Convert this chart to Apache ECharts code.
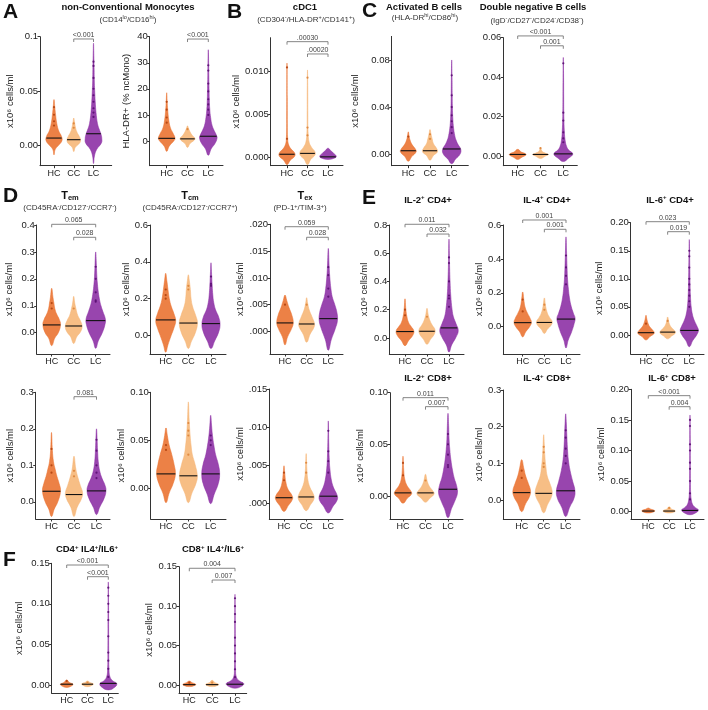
<!DOCTYPE html>
<html><head><meta charset="utf-8">
<script src="https://cdn.jsdelivr.net/npm/echarts@6/dist/echarts.min.js"></script>
<style>html,body{margin:0;padding:0;background:#fff}#c{width:708px;height:710px}</style>
</head><body><div id="c"></div>
<script>
const groups = ['HC', 'CC', 'LC'];

// ---------- A1: non-conventional monocytes ----------
const monoTicks = [0, 0.05, 0.1];
const monoTickLabels = ['0.00', '0.05', '0.1'];
const monoHC = [[-0.009,0],[-0.004,0.15],[0.0,0.6],[0.004,1.0],[0.008,0.95],[0.013,0.6],[0.02,0.35],[0.028,0.2],[0.035,0.1],[0.042,0]];
const monoCC = [[-0.006,0],[-0.002,0.2],[0.002,0.75],[0.005,0.85],[0.008,0.7],[0.012,0.4],[0.017,0.2],[0.022,0.08],[0.025,0]];
const monoLC = [[-0.017,0],[-0.01,0.12],[-0.004,0.4],[0.002,1.0],[0.006,1.05],[0.01,0.95],[0.015,0.7],[0.02,0.5],[0.03,0.32],[0.04,0.22],[0.05,0.15],[0.06,0.1],[0.07,0.08],[0.08,0.05],[0.094,0]];
const monoMedians = [0.0065, 0.005, 0.0105];
const monoDots = [[0.035,0.028,0.022,0.018],[0.02,0.016],[0.077,0.073,0.062,0.052,0.046,0.04,0.034,0.03,0.026]];
const monoPvals = [['CC','LC','<0.001']];

// ---------- A2: HLA-DR+ ----------
const hladrTicks = [0, 10, 20, 30, 40];
const hladrTickLabels = ['0', '10', '20', '30', '40'];
const hladrHC = [[-4,0],[-2,0.3],[0,0.85],[1,1.0],[3,0.75],[5,0.45],[8,0.25],[12,0.12],[15,0.06],[18.5,0]];
const hladrCC = [[-2.5,0],[-1,0.3],[0.3,0.8],[1,0.9],[2,0.6],[3.5,0.3],[5,0.1],[5.8,0]];
const hladrLC = [[-5.5,0],[-3,0.35],[-1,0.8],[1,1.05],[2,1.0],[4,0.7],[6,0.45],[9,0.28],[12,0.18],[16,0.12],[20,0.09],[25,0.06],[30,0.04],[35,0]];
const hladrMedians = [1.0, 0.8, 1.8];
const hladrDots = [[15,12,9,7],[4.5],[29,27,22,19,16,14,12,10]];
const hladrPvals = [['CC','LC','<0.001']];

// ---------- B: cDC1 ----------
const cdc1Ticks = [0, 0.005, 0.01];
const cdc1TickLabels = ['0.000', '0.005', '0.010'];
const cdc1HC = [[-0.0008,0],[-0.0003,0.4],[0.0002,0.95],[0.0006,0.9],[0.001,0.5],[0.0015,0.2],[0.0022,0.08],[0.004,0.04],[0.007,0.03],[0.011,0]];
const cdc1CC = [[-0.0008,0],[-0.0002,0.4],[0.0003,0.9],[0.0007,0.9],[0.0012,0.5],[0.0018,0.2],[0.003,0.07],[0.005,0.04],[0.008,0.03],[0.0102,0]];
const cdc1LC = [[-0.0002,0],[0.0,0.9],[0.0002,1.0],[0.0005,0.7],[0.0008,0.35],[0.0011,0]];
const cdc1Medians = [0.0004, 0.0005, 0.0001];
const cdc1Dots = [[0.0105,0.0022],[0.0093,0.0035,0.0026],[]];
const cdc1Pvals = [['HC','LC','.00030'],['CC','LC','.00020']];

// ---------- C1: activated B cells ----------
const actBTicks = [0, 0.04, 0.08];
const actBTickLabels = ['0.00', '0.04', '0.08'];
const actBHC = [[-0.006,0],[-0.002,0.4],[0.002,0.9],[0.004,0.85],[0.008,0.45],[0.012,0.2],[0.016,0.08],[0.019,0]];
const actBCC = [[-0.005,0],[-0.001,0.4],[0.002,0.85],[0.005,0.75],[0.009,0.4],[0.013,0.25],[0.017,0.12],[0.021,0]];
const actBLC = [[-0.008,0],[-0.004,0.45],[0.0,0.95],[0.004,1.05],[0.008,0.75],[0.012,0.5],[0.016,0.35],[0.022,0.22],[0.03,0.13],[0.04,0.08],[0.05,0.06],[0.065,0.04],[0.08,0]];
const actBMedians = [0.003, 0.003, 0.0045];
const actBDots = [[0.015],[0.017,0.013],[0.067,0.05,0.04,0.033,0.028,0.023,0.018]];
const actBPvals = [];

// ---------- C2: double negative B cells ----------
const dnBTicks = [0, 0.02, 0.04, 0.06];
const dnBTickLabels = ['0.00', '0.02', '0.04', '0.06'];
const dnBHC = [[-0.0017,0],[-0.0005,0.5],[0.0005,0.9],[0.0012,0.85],[0.002,0.4],[0.0034,0]];
const dnBCC = [[-0.0012,0],[0.0,0.55],[0.0008,0.85],[0.0015,0.5],[0.0025,0.15],[0.0045,0]];
const dnBLC = [[-0.0028,0],[-0.001,0.6],[0.0005,1.0],[0.0015,1.0],[0.003,0.6],[0.005,0.35],[0.008,0.2],[0.012,0.12],[0.02,0.06],[0.03,0.04],[0.04,0.03],[0.05,0]];
const dnBMedians = [0.0008, 0.0008, 0.0011];
const dnBDots = [[],[0.004],[0.047,0.022,0.018,0.012,0.009,0.007]];
const dnBPvals = [['HC','LC','<0.001'],['CC','LC','0.001']];

// ---------- D1: Tem ----------
const temTicks = [0, 0.1, 0.2, 0.3, 0.4];
const temTickLabels = ['0.0', '0.1', '0.2', '0.3', '0.4'];
const temHC = [[-0.048,0],[-0.02,0.35],[0.0,0.75],[0.03,1.0],[0.05,0.85],[0.07,0.55],[0.09,0.35],[0.11,0.25],[0.13,0.15],[0.165,0]];
const temCC = [[-0.04,0],[-0.015,0.35],[0.005,0.8],[0.025,0.95],[0.045,0.75],[0.065,0.45],[0.09,0.25],[0.11,0.12],[0.135,0]];
const temLC = [[-0.058,0],[-0.03,0.3],[0.0,0.75],[0.03,1.05],[0.05,1.1],[0.08,0.8],[0.1,0.6],[0.12,0.45],[0.15,0.3],[0.18,0.2],[0.21,0.13],[0.25,0.08],[0.3,0]];
const temMedians = [0.029, 0.025, 0.045];
const temDots = [[0.11,0.09],[0.09],[0.245,0.2,0.15,0.12,0.115]];
const temPvals = [['HC','LC','0.065'],['CC','LC','0.028']];

// ---------- D2: Tcm ----------
const tcmTicks = [0, 0.2, 0.4, 0.6];
const tcmTickLabels = ['0.0', '0.2', '0.4', '0.6'];
const tcmHC = [[-0.09,0],[-0.05,0.25],[0.0,0.6],[0.04,0.9],[0.08,1.1],[0.12,0.9],[0.16,0.6],[0.2,0.4],[0.25,0.25],[0.3,0.12],[0.338,0]];
const tcmCC = [[-0.07,0],[-0.03,0.35],[0.02,0.8],[0.07,1.0],[0.11,0.8],[0.16,0.45],[0.2,0.3],[0.25,0.22],[0.3,0.1],[0.33,0]];
const tcmLC = [[-0.07,0],[-0.03,0.4],[0.02,0.85],[0.06,1.0],[0.1,0.85],[0.14,0.5],[0.18,0.3],[0.22,0.2],[0.27,0.13],[0.32,0.08],[0.36,0.04],[0.395,0]];
const tcmMedians = [0.085, 0.068, 0.065];
const tcmDots = [[0.25,0.22,0.2],[0.27,0.25],[0.32,0.28,0.27]];
const tcmPvals = [];

// ---------- D3: Tex ----------
const texTicks = [0, 0.005, 0.01, 0.015, 0.02];
const texTickLabels = ['.000', '.005', '.010', '.015', '.020'];
const texHC = [[-0.0025,0],[-0.001,0.3],[0.0005,0.75],[0.0016,0.95],[0.003,0.8],[0.0045,0.45],[0.0058,0.2],[0.0068,0]];
const texCC = [[-0.002,0],[-0.0005,0.4],[0.0008,0.85],[0.0015,0.9],[0.0028,0.6],[0.004,0.3],[0.0052,0.12],[0.0063,0]];
const texLC = [[-0.0035,0],[-0.0015,0.35],[0.0005,0.8],[0.002,1.05],[0.0035,1.0],[0.005,0.75],[0.0065,0.45],[0.008,0.3],[0.01,0.18],[0.012,0.1],[0.0155,0]];
const texMedians = [0.0016, 0.0014, 0.0024];
const texDots = [[0.005],[0.005],[0.012,0.0105,0.008,0.0065]];
const texPvals = [['HC','LC','0.059'],['CC','LC','0.028']];

// ---------- E1: IL-2+ CD4+ ----------
const il2cd4Ticks = [0, 0.2, 0.4, 0.6, 0.8];
const il2cd4TickLabels = ['0.0', '0.2', '0.4', '0.6', '0.8'];
const il2cd4HC = [[-0.055,0],[-0.02,0.4],[0.02,0.9],[0.05,1.0],[0.08,0.7],[0.11,0.4],[0.15,0.22],[0.2,0.1],[0.277,0]];
const il2cd4CC = [[-0.045,0],[-0.01,0.4],[0.03,0.85],[0.06,0.9],[0.09,0.6],[0.12,0.35],[0.16,0.15],[0.21,0]];
const il2cd4LC = [[-0.1,0],[-0.05,0.3],[0.0,0.75],[0.05,1.05],[0.1,0.8],[0.15,0.5],[0.2,0.35],[0.3,0.2],[0.4,0.12],[0.5,0.07],[0.6,0.04],[0.7,0]];
const il2cd4Medians = [0.045, 0.047, 0.071];
const il2cd4Dots = [[0.2,0.16],[0.15],[0.57,0.53,0.4,0.3,0.28,0.22]];
const il2cd4Pvals = [['HC','LC','0.011'],['CC','LC','0.032']];

// ---------- E2: IL-4+ CD4+ ----------
const il4cd4Ticks = [0, 0.2, 0.4, 0.6];
const il4cd4TickLabels = ['0.0', '0.2', '0.4', '0.6'];
const il4cd4HC = [[-0.06,0],[-0.03,0.35],[0.0,0.8],[0.025,1.0],[0.05,0.85],[0.08,0.55],[0.11,0.3],[0.15,0.15],[0.205,0]];
const il4cd4CC = [[-0.04,0],[-0.015,0.35],[0.01,0.8],[0.03,0.9],[0.055,0.6],[0.08,0.35],[0.12,0.15],[0.17,0]];
const il4cd4LC = [[-0.125,0],[-0.08,0.25],[-0.03,0.65],[0.02,0.95],[0.05,1.05],[0.08,0.85],[0.12,0.6],[0.17,0.4],[0.22,0.28],[0.28,0.18],[0.35,0.12],[0.43,0.07],[0.53,0]];
const il4cd4Medians = [0.024, 0.025, 0.045];
const il4cd4Dots = [[0.16,0.09],[0.13,0.1],[0.42,0.35,0.3,0.25]];
const il4cd4Pvals = [['HC','LC','0.001'],['CC','LC','0.001']];

// ---------- E3: IL-6+ CD4+ ----------
const il6cd4Ticks = [0, 0.05, 0.1, 0.15, 0.2];
const il6cd4TickLabels = ['0.00', '0.05', '0.10', '0.15', '0.20'];
const il6cd4HC = [[-0.009,0],[-0.003,0.45],[0.003,0.95],[0.008,0.8],[0.014,0.45],[0.02,0.25],[0.028,0.1],[0.035,0]];
const il6cd4CC = [[-0.007,0],[-0.002,0.45],[0.004,0.9],[0.009,0.7],[0.015,0.35],[0.022,0.15],[0.032,0]];
const il6cd4LC = [[-0.021,0],[-0.01,0.4],[0.0,0.85],[0.008,1.05],[0.015,0.9],[0.025,0.6],[0.035,0.38],[0.05,0.22],[0.07,0.13],[0.09,0.09],[0.12,0.06],[0.15,0.03],[0.17,0]];
const il6cd4Medians = [0.004, 0.005, 0.008];
const il6cd4Dots = [[0.02],[0.025],[0.15,0.14,0.12,0.1,0.09,0.08,0.07,0.06,0.05]];
const il6cd4Pvals = [['HC','LC','0.023'],['CC','LC','0.019']];

// ---------- D4 ----------
const tem8Ticks = [0, 0.1, 0.2, 0.3];
const tem8TickLabels = ['0.0', '0.1', '0.2', '0.3'];
const tem8HC = [[-0.04,0],[-0.02,0.3],[0.0,0.7],[0.03,1.0],[0.05,0.85],[0.07,0.6],[0.09,0.4],[0.11,0.22],[0.14,0.1],[0.19,0]];
const tem8CC = [[-0.04,0],[-0.015,0.35],[0.01,0.85],[0.025,0.95],[0.045,0.7],[0.065,0.45],[0.09,0.2],[0.125,0]];
const tem8LC = [[-0.035,0],[-0.015,0.35],[0.01,0.85],[0.03,1.05],[0.045,0.95],[0.065,0.6],[0.085,0.35],[0.11,0.2],[0.14,0.12],[0.17,0.07],[0.2,0]];
const tem8Medians = [0.029, 0.02, 0.03];
const tem8Dots = [[0.145,0.1,0.08],[0.085,0.07],[0.17,0.14,0.1,0.08,0.065]];
const tem8Pvals = [['CC','LC','0.081']];

// ---------- D5 ----------
const tcm8Ticks = [0, 0.05, 0.1];
const tcm8TickLabels = ['0.00', '0.05', '0.10'];
const tcm8HC = [[-0.015,0],[-0.005,0.35],[0.005,0.8],[0.015,1.05],[0.025,0.9],[0.035,0.65],[0.045,0.35],[0.055,0.15],[0.063,0]];
const tcm8CC = [[-0.015,0],[-0.005,0.4],[0.005,0.85],[0.013,1.0],[0.025,0.75],[0.035,0.45],[0.045,0.3],[0.055,0.2],[0.07,0.1],[0.09,0]];
const tcm8LC = [[-0.016,0],[-0.006,0.4],[0.005,0.85],[0.015,1.0],[0.025,0.85],[0.035,0.55],[0.045,0.35],[0.055,0.2],[0.065,0.1],[0.076,0]];
const tcm8Medians = [0.015, 0.013, 0.015];
const tcm8Dots = [[0.045,0.04],[0.068,0.06,0.055,0.035],[0.055,0.05,0.045]];
const tcm8Pvals = [];

// ---------- D6 ----------
const tex8Ticks = [0, 0.005, 0.01, 0.015];
const tex8TickLabels = ['.000', '.005', '.010', '.015'];
const tex8HC = [[-0.0011,0],[-0.0003,0.5],[0.0005,0.95],[0.001,0.9],[0.0018,0.45],[0.0028,0.2],[0.004,0.08],[0.0049,0]];
const tex8CC = [[-0.001,0],[-0.0002,0.5],[0.0006,0.9],[0.0012,0.8],[0.002,0.45],[0.003,0.2],[0.0045,0.08],[0.0065,0]];
const tex8LC = [[-0.0013,0],[-0.0004,0.55],[0.0004,1.0],[0.001,1.0],[0.002,0.6],[0.003,0.35],[0.0045,0.18],[0.006,0.1],[0.008,0.05],[0.0108,0]];
const tex8Medians = [0.0007, 0.0008, 0.0009];
const tex8Dots = [[0.004,0.003],[0.0053,0.004],[0.0095,0.0068,0.0055,0.004]];
const tex8Pvals = [];

// ---------- E4: IL-2+ CD8+ ----------
const il2cd8Ticks = [0, 0.05, 0.1];
const il2cd8TickLabels = ['0.00', '0.05', '0.10'];
const il2cd8HC = [[-0.007,0],[-0.002,0.5],[0.002,0.95],[0.005,0.85],[0.01,0.45],[0.016,0.2],[0.025,0.08],[0.0385,0]];
const il2cd8CC = [[-0.006,0],[-0.002,0.5],[0.002,0.95],[0.005,0.8],[0.009,0.45],[0.014,0.2],[0.021,0]];
const il2cd8LC = [[-0.021,0],[-0.012,0.4],[-0.004,0.8],[0.003,1.05],[0.01,0.95],[0.017,0.7],[0.025,0.5],[0.035,0.32],[0.045,0.2],[0.055,0.12],[0.068,0.07],[0.08,0]];
const il2cd8Medians = [0.003, 0.003, 0.0065];
const il2cd8Dots = [[0.032,0.02],[0.015],[0.06,0.05,0.04,0.03,0.028]];
const il2cd8Pvals = [['HC','LC','0.011'],['CC','LC','0.007']];

// ---------- E5: IL-4+ CD8+ ----------
const il4cd8Ticks = [0, 0.1, 0.2, 0.3];
const il4cd8TickLabels = ['0.0', '0.1', '0.2', '0.3'];
const il4cd8HC = [[-0.032,0],[-0.01,0.45],[0.01,0.9],[0.025,1.0],[0.045,0.75],[0.065,0.45],[0.085,0.25],[0.11,0]];
const il4cd8CC = [[-0.035,0],[-0.012,0.45],[0.01,0.9],[0.025,0.95],[0.045,0.7],[0.065,0.4],[0.09,0.25],[0.12,0.13],[0.15,0.07],[0.178,0]];
const il4cd8LC = [[-0.045,0],[-0.02,0.45],[0.005,0.95],[0.025,1.05],[0.05,0.8],[0.08,0.5],[0.11,0.3],[0.14,0.2],[0.18,0.12],[0.21,0.07],[0.235,0]];
const il4cd8Medians = [0.02, 0.018, 0.025];
const il4cd8Dots = [[0.08,0.06],[0.145,0.13,0.1,0.09],[0.19,0.17,0.14,0.12,0.1]];
const il4cd8Pvals = [];

// ---------- E6: IL-6+ CD8+ ----------
const il6cd8Ticks = [0, 0.05, 0.1, 0.15, 0.2];
const il6cd8TickLabels = ['0.00', '0.05', '0.10', '0.15', '0.20'];
const il6cd8HC = [[-0.002,0],[0.0,0.7],[0.002,0.75],[0.004,0.3],[0.006,0]];
const il6cd8CC = [[-0.002,0],[0.0,0.7],[0.002,0.7],[0.004,0.3],[0.008,0]];
const il6cd8LC = [[-0.005,0],[-0.001,0.8],[0.003,1.0],[0.007,0.6],[0.012,0.3],[0.02,0.15],[0.03,0.08],[0.05,0.05],[0.08,0.04],[0.12,0.03],[0.158,0]];
const il6cd8Medians = [0.001, 0.001, 0.002];
const il6cd8Dots = [[],[0.006],[0.15,0.14,0.11,0.1,0.08,0.07,0.05,0.03,0.02]];
const il6cd8Pvals = [['HC','LC','<0.001'],['CC','LC','0.004']];

// ---------- F1: CD4+ IL4+/IL6+ ----------
const dpcd4Ticks = [0, 0.05, 0.1, 0.15];
const dpcd4TickLabels = ['0.00', '0.05', '0.10', '0.15'];
const dpcd4HC = [[-0.003,0],[-0.001,0.6],[0.001,0.75],[0.003,0.35],[0.006,0]];
const dpcd4CC = [[-0.002,0],[0.0,0.6],[0.0015,0.7],[0.003,0.3],[0.005,0]];
const dpcd4LC = [[-0.006,0],[-0.002,0.85],[0.002,1.0],[0.005,0.55],[0.01,0.2],[0.02,0.08],[0.04,0.05],[0.07,0.04],[0.1,0.03],[0.127,0]];
const dpcd4Medians = [0.001, 0.001, 0.002];
const dpcd4Dots = [[0.005],[0.003],[0.12,0.11,0.1,0.09,0.08,0.06,0.04,0.03,0.02,0.01]];
const dpcd4Pvals = [['HC','LC','<0.001'],['CC','LC','<0.001']];

// ---------- F2: CD8+ IL4+/IL6+ ----------
const dpcd8Ticks = [0, 0.05, 0.1, 0.15];
const dpcd8TickLabels = ['0.00', '0.05', '0.10', '0.15'];
const dpcd8HC = [[-0.002,0],[-0.0005,0.6],[0.001,0.7],[0.003,0.3],[0.005,0]];
const dpcd8CC = [[-0.002,0],[-0.0005,0.6],[0.001,0.7],[0.003,0.3],[0.006,0]];
const dpcd8LC = [[-0.004,0],[-0.001,0.8],[0.002,0.95],[0.005,0.5],[0.01,0.15],[0.02,0.06],[0.04,0.04],[0.07,0.03],[0.1,0.02],[0.115,0]];
const dpcd8Medians = [0.0005, 0.0005, 0.001];
const dpcd8Dots = [[0.003],[0.003],[0.11,0.1,0.09,0.08,0.06,0.05,0.04,0.03,0.02,0.01]];
const dpcd8Pvals = [['HC','LC','0.004'],['CC','LC','0.007']];

// ================= layout (pixels) =================
const CELLS = 'x10\u2076 cells/ml';
// box: [axisLeft, axisRight, firstCat, lastCat, topPx, bottomPx], y: [min,max]
const panels = [
  {box:[40,111.7,54,93.5,36.7,165.7], y:[-0.019,0.1], name:CELLS, gap:24, lv:[0.0979], t:monoTicks, tl:monoTickLabels, v:[monoHC,monoCC,monoLC], m:monoMedians, d:monoDots, p:monoPvals},
  {box:[149.7,223,166.7,208.3,36.7,165.7], y:[-9.5,40], name:'HLA-DR+ (% ncMono)', gap:18, lv:[39.1], t:hladrTicks, tl:hladrTickLabels, v:[hladrHC,hladrCC,hladrLC], m:hladrMedians, d:hladrDots, p:hladrPvals},
  {box:[270.7,343,287,328,37.7,165.7], y:[-0.00093,0.01395], name:CELLS, gap:19, lv:[0.01349,0.01206], t:cdc1Ticks, tl:cdc1TickLabels, v:[cdc1HC,cdc1CC,cdc1LC], m:cdc1Medians, d:cdc1Dots, p:cdc1Pvals},
  {box:[391.7,468.3,408.3,451.7,36.4,165.7], y:[-0.0097,0.1], name:CELLS, gap:31, lv:[], t:actBTicks, tl:actBTickLabels, v:[actBHC,actBCC,actBLC], m:actBMedians, d:actBDots, p:actBPvals},
  {box:[503.3,577.3,517.7,563.3,37.7,165.7], y:[-0.0049,0.06], name:'', gap:20, lv:[0.0609,0.0559], t:dnBTicks, tl:dnBTickLabels, v:[dnBHC,dnBCC,dnBLC], m:dnBMedians, d:dnBDots, p:dnBPvals},
  {box:[36.7,110,51.7,95.7,225,354], y:[-0.079,0.4], name:CELLS, gap:22, lv:[0.4026,0.3543], t:temTicks, tl:temTickLabels, v:[temHC,temCC,temLC], m:temMedians, d:temDots, p:temPvals},
  {box:[150,226,165.7,211,225,354], y:[-0.1,0.6], name:CELLS, gap:16, lv:[], t:tcmTicks, tl:tcmTickLabels, v:[tcmHC,tcmCC,tcmLC], m:tcmMedians, d:tcmDots, p:tcmPvals},
  {box:[270,343,285,328.3,224.3,354], y:[-0.0042,0.02], name:CELLS, gap:22, lv:[0.01955,0.01758], t:texTicks, tl:texTickLabels, v:[texHC,texCC,texLC], m:texMedians, d:texDots, p:texPvals},
  {box:[389.3,464,405,449,225,354], y:[-0.114,0.8], name:CELLS, gap:20, lv:[0.805,0.736], t:il2cd4Ticks, tl:il2cd4TickLabels, v:[il2cd4HC,il2cd4CC,il2cd4LC], m:il2cd4Medians, d:il2cd4Dots, p:il2cd4Pvals},
  {box:[503.3,580,522.7,566,225,354], y:[-0.161,0.6], name:CELLS, gap:16, lv:[0.6295,0.5746], t:il4cd4Ticks, tl:il4cd4TickLabels, v:[il4cd4HC,il4cd4CC,il4cd4LC], m:il4cd4Medians, d:il4cd4Dots, p:il4cd4Pvals},
  {box:[630.7,704,646,689.3,222.7,354], y:[-0.034,0.2], name:CELLS, gap:26, lv:[0.2018,0.184], t:il6cd4Ticks, tl:il6cd4TickLabels, v:[il6cd4HC,il6cd4CC,il6cd4LC], m:il6cd4Medians, d:il6cd4Dots, p:il6cd4Pvals},
  {box:[35.7,110,51.5,96.5,392.3,519], y:[-0.047,0.3], name:CELLS, gap:20, lv:[0.288], t:tem8Ticks, tl:tem8TickLabels, v:[tem8HC,tem8CC,tem8LC], m:tem8Medians, d:tem8Dots, p:tem8Pvals},
  {box:[150.7,226,166,210.7,392.3,519], y:[-0.032,0.1], name:CELLS, gap:20, lv:[], t:tcm8Ticks, tl:tcm8TickLabels, v:[tcm8HC,tcm8CC,tcm8LC], m:tcm8Medians, d:tcm8Dots, p:tcm8Pvals},
  {box:[269.3,343,284,328.3,389,519], y:[-0.0021,0.015], name:CELLS, gap:22, lv:[], t:tex8Ticks, tl:tex8TickLabels, v:[tex8HC,tex8CC,tex8LC], m:tex8Medians, d:tex8Dots, p:tex8Pvals},
  {box:[390,463,403,448,392.7,519], y:[-0.0223,0.1], name:CELLS, gap:17, lv:[0.0952,0.0865], t:il2cd8Ticks, tl:il2cd8TickLabels, v:[il2cd8HC,il2cd8CC,il2cd8LC], m:il2cd8Medians, d:il2cd8Dots, p:il2cd8Pvals},
  {box:[503.3,580,521.7,565.7,390,519], y:[-0.052,0.3], name:CELLS, gap:16, lv:[], t:il4cd8Ticks, tl:il4cd8TickLabels, v:[il4cd8HC,il4cd8CC,il4cd8LC], m:il4cd8Medians, d:il4cd8Dots, p:il4cd8Pvals},
  {box:[631,704,648.3,690,389.3,519], y:[-0.012,0.2], name:CELLS, gap:23, lv:[0.1896,0.1716], t:il6cd8Ticks, tl:il6cd8TickLabels, v:[il6cd8HC,il6cd8CC,il6cd8LC], m:il6cd8Medians, d:il6cd8Dots, p:il6cd8Pvals},
  {box:[51.7,118.3,66.7,108.3,563.3,693.3], y:[-0.0102,0.15], name:CELLS, gap:27, lv:[0.1479,0.1335], t:dpcd4Ticks, tl:dpcd4TickLabels, v:[dpcd4HC,dpcd4CC,dpcd4LC], m:dpcd4Medians, d:dpcd4Dots, p:dpcd4Pvals},
  {box:[179,246.7,189.3,235,566.7,693.3], y:[-0.0105,0.15], name:CELLS, gap:23, lv:[0.148,0.1331], t:dpcd8Ticks, tl:dpcd8TickLabels, v:[dpcd8HC,dpcd8CC,dpcd8LC], m:dpcd8Medians, d:dpcd8Dots, p:dpcd8Pvals}
];

const FONT = '"Liberation Sans", Arial, Helvetica, sans-serif';
const FILL = ['#E9702C', '#F6B574', '#8A2BA3'];
const DOT = ['#B3420E', '#DD843A', '#5A0D72'];
const HW = 0.4;

function widthAt(profile, v) {
  for (let i = 1; i < profile.length; i++) {
    const a = profile[i-1], b = profile[i];
    if (v >= a[0] && v <= b[0]) return a[1] + (b[1]-a[1]) * (v-a[0]) / (b[0]-a[0]);
  }
  return 0;
}

const grid = [], xAxis = [], yAxis = [], series = [];
panels.forEach((p, i) => {
  const [L, R, c1, c3, top, bottom] = p.box;
  const s = (c3 - c1) / 2;
  grid.push({left: L, top: top, width: R - L, height: bottom - top, containLabel: false});
  xAxis.push({
    type: 'value', gridIndex: i, min: 1 - (c1 - L) / s, max: 3 + (R - c3) / s,
    axisLine: {show: true, onZero: false, lineStyle: {color: '#333', width: 1}},
    axisTick: {show: true, length: 2.5, customValues: [1, 2, 3], lineStyle: {color: '#333'}},
    axisLabel: {customValues: [1, 2, 3], formatter: v => groups[Math.round(v) - 1], fontSize: 9, color: '#222', margin: 3, fontFamily: FONT},
    splitLine: {show: false}
  });
  const eps = (p.y[1] - p.y[0]) * 1e-6;
  yAxis.push({
    type: 'value', gridIndex: i, min: p.y[0], max: p.y[1],
    axisLine: {show: true, onZero: false, lineStyle: {color: '#333', width: 1}},
    axisTick: {show: true, length: 2.5, customValues: p.t, lineStyle: {color: '#333'}},
    axisLabel: {customValues: p.t, fontSize: 9.5, color: '#222', margin: 2, fontFamily: FONT,
      formatter: v => { const k = p.t.findIndex(t => Math.abs(t - v) < eps); return k >= 0 ? p.tl[k] : ''; }},
    splitLine: {show: false},
    name: p.name, nameLocation: 'middle', nameRotate: 90, nameGap: p.gap,
    nameTextStyle: {fontSize: 9.5, color: '#222', fontFamily: FONT}
  });
  // violins + medians
  p.v.forEach((profile, g) => {
    const med = p.m[g];
    series.push({
      type: 'custom', xAxisIndex: i, yAxisIndex: i, silent: true, z: 2,
      data: [[g + 1, med]],
      renderItem: (params, api) => {
        const x = api.value(0);
        const right = profile.map(([v, w]) => api.coord([x + w * HW, v]));
        const left = profile.slice(1, -1).reverse().map(([v, w]) => api.coord([x - w * HW, v]));
        const wm = widthAt(profile, api.value(1)) * HW;
        const m1 = api.coord([x - wm, api.value(1)]), m2 = api.coord([x + wm, api.value(1)]);
        return {type: 'group', children: [
          {type: 'polygon', shape: {points: right.concat(left), smooth: 0.45},
           style: {fill: FILL[g], stroke: FILL[g], lineWidth: 0.6, opacity: 0.88}},
          {type: 'line', shape: {x1: m1[0], y1: m1[1], x2: m2[0], y2: m2[1]},
           style: {stroke: '#111', lineWidth: 1.1}}
        ]};
      }
    });
    series.push({
      type: 'scatter', xAxisIndex: i, yAxisIndex: i, silent: true, z: 3,
      symbolSize: 2.2, itemStyle: {color: DOT[g], opacity: 0.9},
      data: p.d[g].map(v => [g + 1, v])
    });
  });
  // significance brackets
  if (p.p.length) {
    series.push({
      type: 'custom', xAxisIndex: i, yAxisIndex: i, silent: true, z: 4,
      data: p.p.map((b, k) => [groups.indexOf(b[0]) + 1, groups.indexOf(b[1]) + 1, p.lv[k], k]),
      renderItem: (params, api) => {
        const a = api.coord([api.value(0), api.value(2)]);
        const b = api.coord([api.value(1), api.value(2)]);
        const label = p.p[api.value(3)][2];
        return {type: 'group', children: [
          {type: 'polyline', shape: {points: [[a[0], a[1] + 3], a, b, [b[0], b[1] + 3]]},
           style: {stroke: '#777', lineWidth: 0.9, fill: null}},
          {type: 'text', x: (a[0] + b[0]) / 2, y: a[1] - 0.5,
           style: {text: label, fontSize: 7, fontFamily: FONT, fill: '#444', align: 'center', verticalAlign: 'bottom'}}
        ]};
      }
    });
  }
});

// ---------- titles / letters ----------
const rich = {
  t: {fontSize: 9.5, fontWeight: 'bold', fontFamily: FONT, fill: '#111', lineHeight: 11},
  tp: {fontSize: 6, fontWeight: 'bold', fontFamily: FONT, fill: '#111', lineHeight: 6, verticalAlign: 'top'},
  T: {fontSize: 11, fontWeight: 'bold', fontFamily: FONT, fill: '#111', lineHeight: 12},
  tb: {fontSize: 7.5, fontWeight: 'bold', fontFamily: FONT, fill: '#111', lineHeight: 7, verticalAlign: 'bottom'},
  s: {fontSize: 8, fontFamily: FONT, fill: '#333', lineHeight: 10},
  sp: {fontSize: 5.5, fontFamily: FONT, fill: '#333', lineHeight: 5, verticalAlign: 'top'}
};
const letters = [['A', 3, 12.5], ['B', 227, 12], ['C', 362, 11.5], ['D', 3, 196], ['E', 362, 198], ['F', 3, 560]];
const titles = [
  ['{t|non-Conventional Monocytes}', 128, 7.5],
  ['{s|(CD14}{sp|lo}{s|/CD16}{sp|hi}{s|)}', 128, 19.5],
  ['{t|cDC1}', 305, 7.5],
  ['{s|(CD304}{sp|-}{s|/HLA-DR}{sp|+}{s|/CD141}{sp|+}{s|)}', 306, 19.5],
  ['{t|Activated B cells}', 424, 7.5],
  ['{s|(HLA-DR}{sp|hi}{s|/CD86}{sp|hi}{s|)}', 425, 17.5],
  ['{t|Double negative B cells}', 533, 7.5],
  ['{s|(IgD}{sp|-}{s|/CD27}{sp|-}{s|/CD24}{sp|-}{s|/CD38}{sp|-}{s|)}', 537, 20.5],
  ['{T|T}{tb|em}', 70, 195.5],
  ['{s|(CD45RA}{sp|-}{s|/CD127}{sp|-}{s|/CCR7}{sp|-}{s|)}', 70, 208],
  ['{T|T}{tb|cm}', 190, 195.5],
  ['{s|(CD45RA}{sp|-}{s|/CD127}{sp|-}{s|/CCR7}{sp|+}{s|)}', 190, 208],
  ['{T|T}{tb|ex}', 305, 195.5],
  ['{s|(PD-1}{sp|+}{s|/TIM-3}{sp|+}{s|)}', 300, 208],
  ['{t|IL-2}{tp|+}{t| CD4+}', 428, 200],
  ['{t|IL-4}{tp|+}{t| CD4+}', 547, 200],
  ['{t|IL-6}{tp|+}{t| CD4+}', 670, 200],
  ['{t|IL-2}{tp|+}{t| CD8+}', 428, 378.5],
  ['{t|IL-4}{tp|+}{t| CD8+}', 547, 378.5],
  ['{t|IL-6}{tp|+}{t| CD8+}', 672, 378.5],
  ['{t|CD4}{tp|+}{t| IL4}{tp|+}{t|/IL6}{tp|+}', 87, 549.5],
  ['{t|CD8}{tp|+}{t| IL4}{tp|+}{t|/IL6}{tp|+}', 213, 549.5]
];
const graphic = [];
letters.forEach(([txt, x, y]) => graphic.push({type: 'text', x: x, y: y, silent: true,
  style: {text: txt, fontSize: 21, fontWeight: 'bold', fontFamily: FONT, fill: '#111', align: 'left', verticalAlign: 'middle'}}));
titles.forEach(([txt, x, y]) => graphic.push({type: 'text', x: x, y: y, silent: true,
  style: {text: txt, rich: rich, align: 'center', verticalAlign: 'middle'}}));

const chart = echarts.init(document.getElementById('c'), null, {renderer: 'canvas'});
chart.setOption({animation: false, backgroundColor: '#fff', grid, xAxis, yAxis, series, graphic});
</script>
</body></html>
